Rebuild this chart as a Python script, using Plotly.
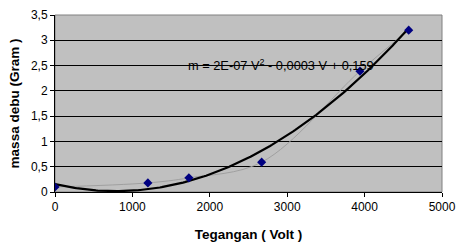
import numpy as np
import plotly.graph_objects as go

tegangan = [0, 1200, 1730, 2670, 3940, 4570]
massa = [0.1, 0.18, 0.28, 0.59, 2.39, 3.2]

x_ticks = [0, 1000, 2000, 3000, 4000, 5000]
y_ticks = [0, 0.5, 1, 1.5, 2, 2.5, 3, 3.5]
y_ticktext = ["0", "0,5", "1", "1,5", "2", "2,5", "3", "3,5"]
equation = "m = 2E-07 V<sup>2</sup> - 0,0003 V + 0,159"

coef = np.polyfit(tegangan, massa, 2)
xv = np.linspace(min(tegangan), max(tegangan), 200)
yv = np.polyval(coef, xv)

fig = go.Figure()
fig.add_trace(go.Scatter(x=tegangan, y=massa, mode="lines",
                         line=dict(color="#a0a0a0", width=1, shape="spline", smoothing=1.0),
                         hoverinfo="skip", showlegend=False))
fig.add_trace(go.Scatter(x=xv, y=yv, mode="lines",
                         line=dict(color="black", width=2.2),
                         showlegend=False))
fig.add_trace(go.Scatter(x=tegangan, y=massa, mode="markers",
                         marker=dict(symbol="diamond", size=7, color="#000080"),
                         showlegend=False))

fig.add_annotation(x=0.585, y=0.774, xref="paper", yref="paper", text=equation,
                   showarrow=False, font=dict(family="Liberation Sans, Arial", size=12.8, color="black"))

fig.add_shape(type="rect", xref="paper", yref="paper", x0=0, x1=1, y0=0, y1=1,
              line=dict(color="#808080", width=1), layer="below")

fig.update_layout(
    width=456, height=242,
    margin=dict(l=55, r=14, t=15, b=50),
    paper_bgcolor="white", plot_bgcolor="#c0c0c0",
    font=dict(family="Liberation Sans, Arial", size=12, color="black"),
    xaxis=dict(range=[0, 5000], tickvals=x_ticks, ticktext=[str(v) for v in x_ticks],
               showgrid=False, zeroline=False, showline=True, linecolor="black", linewidth=1,
               ticks="outside", ticklen=4, tickcolor="black", automargin=False,
               title=dict(text="<b>Tegangan ( Volt )</b>", font=dict(size=13.5), standoff=16)),
    yaxis=dict(range=[0, 3.5], tickvals=y_ticks, ticktext=y_ticktext,
               showgrid=True, gridcolor="black", gridwidth=1, zeroline=False,
               showline=True, linecolor="black", linewidth=1,
               ticks="outside", ticklen=4, tickcolor="black", automargin=False,
               title=dict(text="<b>massa debu (Gram )</b>", font=dict(size=13.5), standoff=8)),
)

fig.write_html("out.html", config={"displayModeBar": False},
               post_script="document.body.style.margin='0px';")
